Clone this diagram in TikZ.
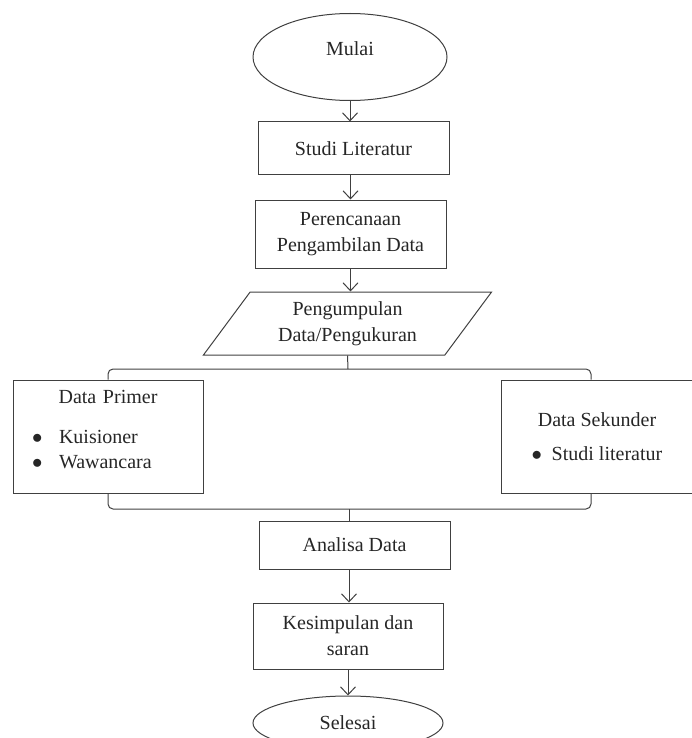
\documentclass[tikz,border=0pt]{standalone}
\usepackage{fontspec}
\setmainfont{Liberation Serif}
\usetikzlibrary{shapes.geometric, arrows.meta}

% bullet item with a fixed gap before the text
\newcommand{\butir}[2][27pt]{\makebox[#1][l]{$\bullet$}#2}

\tikzset{
  kotak/.style={draw=black!75, line width=1pt, rectangle, align=center, inner sep=2pt},
  oval/.style={draw=black!75, line width=1pt, ellipse, inner sep=0pt},
  jajar/.style={draw=black!75, line width=1pt, trapezium, trapezium left angle=53,
    trapezium right angle=127, trapezium stretches=true, align=center, inner sep=0pt},
  panah/.style={draw=black!75, line width=1pt, -{Straight Barb[length=8pt,width=15pt]}},
  garis/.style={draw=black!75, line width=1pt, rounded corners=5pt},
}

\begin{document}
\begin{tikzpicture}[x=1pt, y=-1pt, font=\fontsize{20}{26}\selectfont, text=black!85]
  \useasboundingbox (0,0) rectangle (692,738);

  % Main column
  \node[oval, minimum width=194pt, minimum height=87pt] (mulai) at (350,57) {\smash{\raisebox{1pt}{Mulai}}};
  \node[kotak, minimum width=191pt, minimum height=53pt] (studi) at (353.5,148.5) {Studi Literatur};
  \node[kotak, minimum width=191pt, minimum height=68pt] (rencana) at (350.5,234) {Perencanaan\\Pengambilan Data};
  \node[jajar, minimum width=289pt, minimum height=63pt] (kumpul) at (347.5,323.5) {Pengumpulan\\Data/Pengukuran};

  % Two data boxes
  \node[kotak, minimum width=190pt, minimum height=113pt, text width=152pt, align=left] (primer) at (108,436.5)
    {\makebox[\linewidth]{Data Primer}\\[14pt]\butir{Kuisioner}\\[-1pt]\butir{Wawancara}\\[-12pt]\mbox{}};
  \node[kotak, minimum width=192pt, minimum height=113pt] (sekunder) at (597,436.5)
    {Data Sekunder\\[8pt]\butir[20pt]{Studi literatur}};

  \node[kotak, minimum width=191pt, minimum height=48pt] (analisa) at (354.5,545) {Analisa Data};
  \node[kotak, minimum width=190pt, minimum height=66pt] (simpul) at (348,636) {Kesimpulan dan\\saran};
  \node[oval, minimum width=190pt, minimum height=54pt] (selesai) at (348,723) {Selesai};

  % Split and join points
  \coordinate (cabang) at (348,369);
  \coordinate (gabung) at (349,509);

  % Connectors
  \draw[panah] (mulai.south) -- (mulai.south |- studi.north);
  \draw[panah] (rencana.south |- studi.south) -- (rencana.south |- rencana.north);
  \draw[panah] (rencana.south) -- (rencana.south |- kumpul.north);
  \draw[garis] (kumpul.south) -- (cabang);
  \draw[garis] (primer.north) |- (cabang) -| ([xshift=-6pt]sekunder.north);
  \draw[garis] (primer.south) |- (gabung) -| ([xshift=-6pt]sekunder.south);
  \draw[garis] (gabung) -- (gabung |- analisa.north);
  \draw[panah] (gabung |- analisa.south) -- (gabung |- simpul.north);
  \draw[panah] (simpul.south) -- (selesai.north);
\end{tikzpicture}
\end{document}
